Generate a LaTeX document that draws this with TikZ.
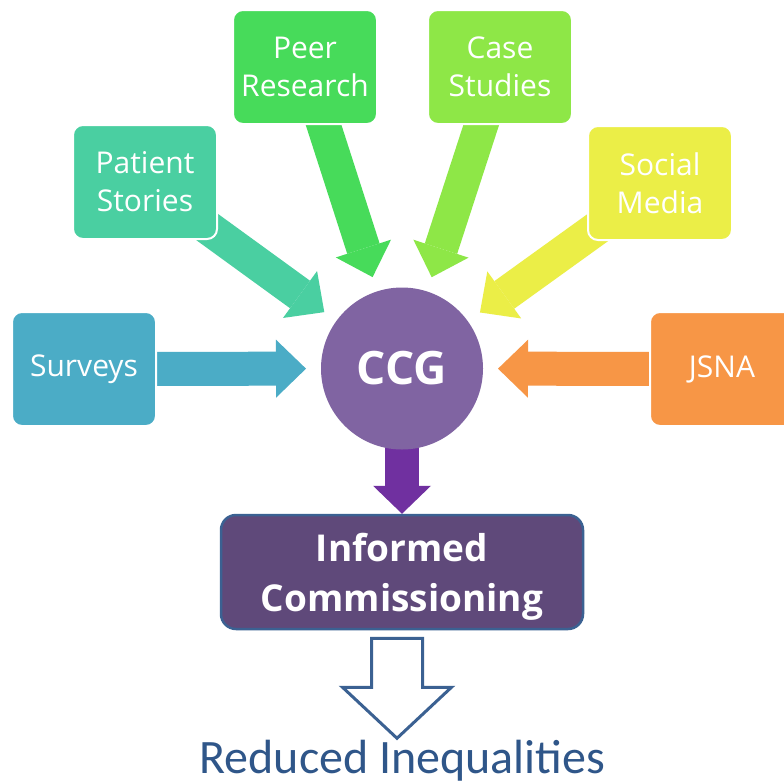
\documentclass[tikz,border=0pt]{standalone}
\usepackage{fontspec}
\setmainfont{Open Sans}
\newfontfamily\calfont{Carlito}
\usetikzlibrary{arrows.meta,calc}
\pgfdeclarelayer{bg}
\pgfsetlayers{bg,main}

\definecolor{surveyC}{HTML}{4BACC6}
\definecolor{patientC}{HTML}{4ACFA1}
\definecolor{peerC}{HTML}{47DB5A}
\definecolor{caseC}{HTML}{8EE747}
\definecolor{socialC}{HTML}{EBEE47}
\definecolor{jsnaC}{HTML}{F79646}
\definecolor{ccgC}{HTML}{8064A2}
\definecolor{downC}{HTML}{7030A0}
\definecolor{infC}{HTML}{5F497A}
\definecolor{infB}{HTML}{3B6192}
\definecolor{blueC}{HTML}{2F5689}

\tikzset{
  srcbox/.style={rectangle, rounded corners=10pt, minimum width=144pt,
    minimum height=114pt, draw=white, line width=2pt, text=white,
    align=center, inner sep=0pt, font=\fontsize{30}{38}\selectfont},
  feed/.style={line width=34pt,
    -{Triangle[width=58pt,length=30pt,line width=0pt]}, shorten <=-16pt},
  hollow/.style={draw=infB, line width=3pt, line join=miter, fill=white},
}

\begin{document}
\begin{tikzpicture}[x=1pt,y=-1pt]
\useasboundingbox (0,0) rectangle (784,780);

% source boxes
\node[srcbox, fill=surveyC]  (sur) at (84,369)  {Surveys};
\node[srcbox, fill=patientC] (pat) at (145,182) {Patient\\Stories};
\node[srcbox, fill=peerC]    (per) at (305,67)  {Peer\\Research};
\node[srcbox, fill=caseC]    (cas) at (500,67)  {Case\\Studies};
\node[srcbox, fill=socialC]  (soc) at (660,183) {Social\\Media};
\node[srcbox, fill=jsnaC]    (jsn) at (722,369) {JSNA};

% hub
\node[circle, minimum size=162pt, inner sep=0pt, outer sep=15pt,
  fill=ccgC, text=white, font=\bfseries\fontsize{46}{50}\selectfont]
  (ccg) at (402,368.5) {CCG};

% outcome box
\node[rectangle, rounded corners=15pt, minimum width=362pt,
  minimum height=114pt, fill=infC, draw=infB, line width=2.5pt,
  text=white, align=center, inner sep=0pt, text depth=0pt,
  font=\bfseries\fontsize{37}{50}\selectfont]
  (inf) at (402,572) {Informed\\Commissioning};

% result
\node[anchor=base, text=blueC, inner sep=0pt,
  font=\calfont\fontsize{48}{50}\selectfont]
  (ri) at (402.5,773) {Reduced Inequalities};

% white page, then the block arrows into the hub, behind the boxes
\begin{pgfonlayer}{bg}
  \fill[white] (0,0) rectangle (784,780);
  \draw[feed, surveyC]  (sur) -- (ccg);
  \draw[feed, patientC] (pat) -- (ccg);
  \draw[feed, peerC]    (per) -- (ccg);
  \draw[feed, caseC]    (cas) -- (ccg);
  \draw[feed, socialC]  (soc) -- (ccg);
  \draw[feed, jsnaC]    (jsn) -- (ccg);
  \draw[feed, downC, -{Triangle[width=58pt,length=28pt,line width=0pt]},
    shorten <=-20pt] (ccg) -- (inf);
\end{pgfonlayer}

% hollow arrow down to the result
\draw[hollow] ($(inf.south)+(-30.5,8)$) -- ++(51,0) -- ++(0,49)
  -- ++(29,0) -- ++(-54.5,51) -- ++(-54.5,-51) -- ++(29,0) -- cycle;
\end{tikzpicture}
\end{document}
